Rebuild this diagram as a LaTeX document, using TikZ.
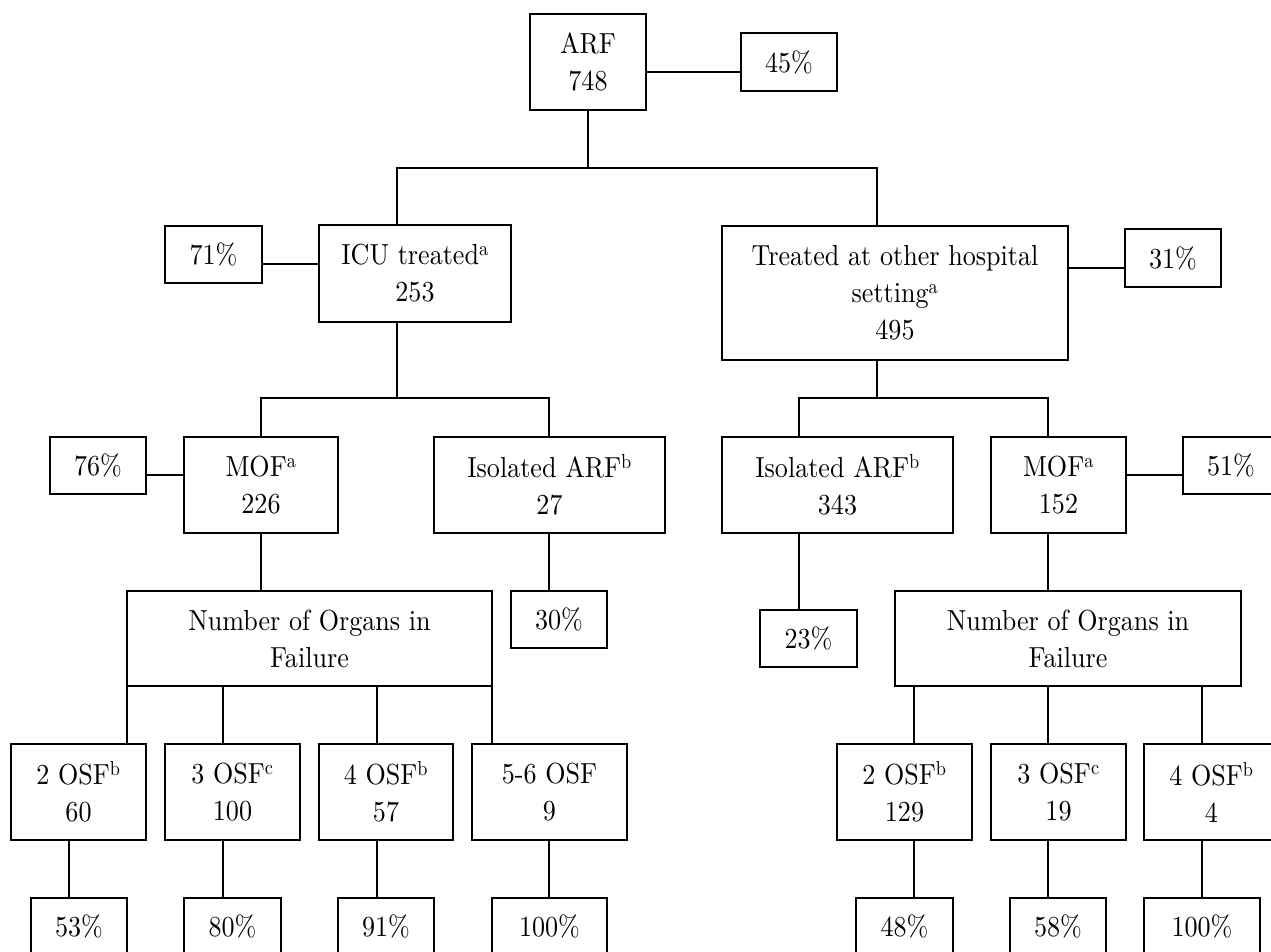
\documentclass[tikz,border=0pt]{standalone}
\usepackage{fontspec}
\setmainfont{lmroman10-regular.otf}[FakeStretch=0.9]
\begin{document}
\begin{tikzpicture}[x=1pt,y=-1pt,
  box/.style={draw, line width=1.6pt, rectangle, inner sep=0pt, align=center,
    font=\fontsize{29}{37}\selectfont},
  link/.style={line width=1.6pt}]
\useasboundingbox (0,0) rectangle (1271,951);
\clip (0,0) rectangle (1271,951);
\fill[white] (0,0) rectangle (1271,951);
% level 0
\node[box, minimum width=116pt, minimum height=96pt] (arf) at (588,62) {ARF\\748};
\node[box, minimum width=96pt, minimum height=58pt] (p45) at (789,62) {45\%};
% level 1
\node[box, minimum width=192pt, minimum height=97pt] (icu) at (415,273.5) {ICU treated\textsuperscript{a}\\253};
\node[box, minimum width=97pt, minimum height=57pt] (p71) at (213.5,254.5) {71\%};
\node[box, minimum width=346pt, minimum height=134pt] (trt) at (895,293) {Treated at other hospital\\setting\textsuperscript{a}\\495};
\node[box, minimum width=96pt, minimum height=58pt] (p31) at (1173,258) {31\%};
% level 2
\node[box, minimum width=96pt, minimum height=57pt] (p76) at (98,465.5) {76\%};
\node[box, minimum width=154pt, minimum height=96pt] (mofL) at (261,485) {MOF\textsuperscript{a}\\226};
\node[box, minimum width=231pt, minimum height=96pt] (isoL) at (549.5,485) {Isolated ARF\textsuperscript{b}\\27};
\node[box, minimum width=231pt, minimum height=96pt] (isoR) at (837.5,485) {Isolated ARF\textsuperscript{b}\\343};
\node[box, minimum width=135pt, minimum height=96pt] (mofR) at (1058.5,485) {MOF\textsuperscript{a}\\152};
\node[box, minimum width=96pt, minimum height=57pt] (p51) at (1231,465.5) {51\%};
% level 3
\node[box, minimum width=365pt, minimum height=95pt] (numL) at (309.5,638.5) {Number of Organs in\\Failure};
\node[box, minimum width=96pt, minimum height=57pt] (p30) at (559,619.5) {30\%};
\node[box, minimum width=97pt, minimum height=57pt] (p23) at (808.5,638.5) {23\%};
\node[box, minimum width=346pt, minimum height=95pt] (numR) at (1068,638.5) {Number of Organs in\\Failure};
% level 4
\node[box, minimum width=135pt, minimum height=96pt] (o2L) at (78.5,792) {2 OSF\textsuperscript{b}\\60};
\node[box, minimum width=135pt, minimum height=96pt] (o3L) at (232.5,792) {3 OSF\textsuperscript{c}\\100};
\node[box, minimum width=134pt, minimum height=96pt] (o4L) at (386,792) {4 OSF\textsuperscript{b}\\57};
\node[box, minimum width=155pt, minimum height=96pt] (o56L) at (549.5,792) {5-6 OSF\\9};
\node[box, minimum width=135pt, minimum height=96pt] (o2R) at (904.5,792) {2 OSF\textsuperscript{b}\\129};
\node[box, minimum width=135pt, minimum height=96pt] (o3R) at (1058.5,792) {3 OSF\textsuperscript{c}\\19};
\node[box, minimum width=135pt, minimum height=96pt] (o4R) at (1211.5,792) {4 OSF\textsuperscript{b}\\4};
% level 5
\node[box, minimum width=96pt, minimum height=57pt] (p53) at (79,926.5) {53\%};
\node[box, minimum width=97pt, minimum height=57pt] (p80) at (232.5,926.5) {80\%};
\node[box, minimum width=96pt, minimum height=57pt] (p91) at (386,926.5) {91\%};
\node[box, minimum width=115pt, minimum height=57pt] (p100L) at (549.5,926.5) {100\%};
\node[box, minimum width=97pt, minimum height=57pt] (p48) at (904.5,926.5) {48\%};
\node[box, minimum width=96pt, minimum height=57pt] (p58) at (1058,926.5) {58\%};
\node[box, minimum width=116pt, minimum height=57pt] (p100R) at (1202,926.5) {100\%};
% helper coordinates
\coordinate (b1L) at (397,168);
\coordinate (b1R) at (877,168);
\coordinate (b2L) at (261,398);
\coordinate (b2M) at (397,398);
\coordinate (b2R) at (549,398);
\coordinate (b3L) at (799,398);
\coordinate (b3M) at (877,398);
\coordinate (b3R) at (1048,398);
\coordinate (h45) at (0,72);
\coordinate (h71) at (0,264);
\coordinate (h31) at (0,268);
\coordinate (h2) at (0,475);
\coordinate (v2L) at (69,0);
\coordinate (v3L) at (223,0);
\coordinate (v4L) at (377,0);
\coordinate (v56L) at (549,0);
\coordinate (v56T) at (492,0);
\coordinate (v2Ltop) at (127,0);
\coordinate (v2R) at (914,0);
\coordinate (v3R) at (1048,0);
\coordinate (v4R) at (1202,0);
% connectors
\draw[link] (arf.south) -- (arf.south |- b1L);
\draw[link] (icu.north -| b1L) -- (b1L) -- (b1R) -- (trt.north -| b1R);
\draw[link] (arf.east |- h45) -- (p45.west |- h45);
\draw[link] (p71.east |- h71) -- (icu.west |- h71);
\draw[link] (trt.east |- h31) -- (p31.west |- h31);
\draw[link] (icu.south -| b2M) -- (b2M);
\draw[link] (mofL.north) -- (b2L) -- (b2R) -- (isoL.north -| b2R);
\draw[link] (trt.south -| b3M) -- (b3M);
\draw[link] (isoR.north -| b3L) -- (b3L) -- (b3R) -- (mofR.north -| b3R);
\draw[link] (p76.east |- h2) -- (mofL.west |- h2);
\draw[link] (mofR.east |- h2) -- (p51.west |- h2);
\draw[link] (mofL.south) -- (numL.north -| mofL.south);
\draw[link] (isoL.south -| b2R) -- (p30.north -| b2R);
\draw[link] (isoR.south -| b3L) -- (p23.north -| b3L);
\draw[link] (mofR.south -| b3R) -- (numR.north -| b3R);
% from number boxes to OSF boxes
\draw[link] (numL.south -| v2Ltop) -- (o2L.north -| v2Ltop);
\draw[link] (numL.south -| v3L) -- (o3L.north -| v3L);
\draw[link] (numL.south -| v4L) -- (o4L.north -| v4L);
\draw[link] (numL.south -| v56T) -- (o56L.north -| v56T);
\draw[link] (numR.south -| v2R) -- (o2R.north -| v2R);
\draw[link] (numR.south -| v3R) -- (o3R.north -| v3R);
\draw[link] (numR.south -| v4R) -- (o4R.north -| v4R);
% from OSF boxes to percentages
\draw[link] (o2L.south -| v2L) -- (p53.north -| v2L);
\draw[link] (o3L.south -| v3L) -- (p80.north -| v3L);
\draw[link] (o4L.south -| v4L) -- (p91.north -| v4L);
\draw[link] (o56L.south -| v56L) -- (p100L.north -| v56L);
\draw[link] (o2R.south -| v2R) -- (p48.north -| v2R);
\draw[link] (o3R.south -| v3R) -- (p58.north -| v3R);
\draw[link] (o4R.south -| v4R) -- (p100R.north -| v4R);
\end{tikzpicture}
\end{document}
